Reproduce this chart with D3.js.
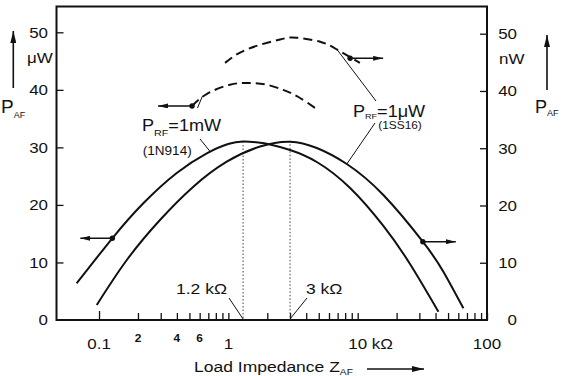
<!DOCTYPE html>
<html>
<head>
<meta charset="utf-8">
<script src="https://cdn.jsdelivr.net/npm/d3@7"></script>
<style>
  body { margin: 0; background: #fff; }
  text { font-family: "Liberation Sans", Arial, sans-serif; fill: #111; }
</style>
</head>
<body>
<div id="chart"></div>
<script>
// load impedance (kOhm) vs audio power
const curve1N914 = [[0.0672, 6.38], [0.1267, 14.2], [0.220, 20.28], [0.399, 25.55], [0.681, 28.97], [0.995, 30.59],
  [1.30, 31.02], [1.70, 30.85], [2.10, 30.5], [3.0, 29.54], [4.83, 27.46], [8.74, 22.94], [15.8, 16.34], [25.4, 9.73], [42.1, 1.44]];
const curve1SS16 = [[0.096, 2.62], [0.164, 10.48], [0.296, 17.46], [0.536, 23.28], [0.972, 27.65], [1.76, 30.3],
  [3.0, 31.14], [4.83, 30.04], [8.24, 27.24], [15.8, 21.83], [31.9, 13.67], [46.0, 8.44], [65.7, 2.04]];
const dashedUpper = [[0.943, 44.9], [1.387, 47.25], [2.51, 49.0], [3.38, 49.3], [5.12, 48.6], [6.89, 47.25], [10.4, 44.9]];
const dashedLower = [[0.524, 37.2], [0.684, 39.3], [1.03, 40.9], [1.42, 41.2], [1.92, 40.96], [2.65, 40.0], [3.46, 38.8], [4.94, 36.5]];

const yTicks = [0, 10, 20, 30, 40, 50];
const xDecades = [0.1, 1, 10];
const xMinorMult = [2, 3, 4, 5, 6, 7, 8, 9];
const xTickLabels = [[0.1, "0.1"], [1, "1"], [100, "100"]];
const xSmallLabels = [[0.2, "2"], [0.4, "4"], [0.6, "6"]];
const optimum = [[1.3, 31.02, "1.2 k\u03A9"], [3.0, 31.14, "3 k\u03A9"]];

const width = 563, height = 376;
const SX = 1.13; // the scan is stretched sideways

const svg = d3.select("#chart").append("svg")
  .attr("width", width).attr("height", height);

const defs = svg.append("defs");
defs.append("marker").attr("id", "ah")
  .attr("viewBox", "0 0 12 6").attr("refX", 12).attr("refY", 3)
  .attr("markerWidth", 12).attr("markerHeight", 6)
  .attr("markerUnits", "userSpaceOnUse").attr("orient", "auto")
  .append("path").attr("d", "M0,0L12,3L0,6Z").attr("fill", "#111");
defs.append("marker").attr("id", "ahs")
  .attr("viewBox", "0 0 10 5").attr("refX", 10).attr("refY", 2.5)
  .attr("markerWidth", 10).attr("markerHeight", 5)
  .attr("markerUnits", "userSpaceOnUse").attr("orient", "auto")
  .append("path").attr("d", "M0,0L10,2.5L0,5Z").attr("fill", "#111");

const x = d3.scaleLog().domain([0.0469, 100]).range([56.5, 487]);
const yL = d3.scaleLinear().domain([0, 50]).range([320, 32.3]);
const yR = d3.scaleLinear().domain([0, 50]).range([320, 33.7]);
const X0 = x.range()[0], X1 = x.range()[1], Y0 = yL(0), YT = 6.5;

function label(px, py, parts, opts) {
  opts = opts || {};
  const t = svg.append("text")
    .attr("transform", `translate(${px},${py}) scale(${opts.sx || SX},1)`)
    .attr("text-anchor", opts.anchor || "start")
    .style("font-weight", opts.weight || "normal");
  parts.forEach(p => t.append("tspan").attr("font-size", p.s).attr("dy", p.dy || 0).text(p.t));
  return t;
}

// ticks
const xTickVals = [];
xDecades.forEach(d => { xTickVals.push(d); xMinorMult.forEach(m => xTickVals.push(d * m)); });
xTickVals.push(100);

svg.append("g")
  .attr("transform", `translate(0,${Y0})`)
  .call(d3.axisBottom(x).tickValues(xTickVals).tickSize(-7).tickFormat(""))
  .call(g => g.select(".domain").remove())
  .call(g => g.selectAll(".tick line").attr("stroke", "#111").attr("stroke-width", 1.3)
    .filter(d => d === 0.1).attr("y2", -9));

svg.append("g")
  .attr("transform", `translate(${X0},0)`)
  .call(d3.axisLeft(yL).tickValues(yTicks.slice(1)).tickSize(-7).tickFormat(""))
  .call(g => g.select(".domain").remove())
  .call(g => g.selectAll(".tick line").attr("stroke", "#111").attr("stroke-width", 1.3));

svg.append("g")
  .attr("transform", `translate(${X1},0)`)
  .call(d3.axisRight(yR).tickValues(yTicks.slice(1)).tickSize(-7).tickFormat(""))
  .call(g => g.select(".domain").remove())
  .call(g => g.selectAll(".tick line").attr("stroke", "#111").attr("stroke-width", 1.3));

// frame
svg.append("rect")
  .attr("x", X0).attr("y", YT).attr("width", X1 - X0).attr("height", Y0 - YT)
  .attr("fill", "none").attr("stroke", "#111").attr("stroke-width", 2);

// tick labels
yTicks.forEach(v => {
  label(48, yL(v) + 5.3, [{ t: v, s: 15 }], { anchor: "end" });
  label(517, yR(v) + 5.3, [{ t: v, s: 15 }], { anchor: "end" });
});
xTickLabels.forEach(([v, t]) => label(x(v), 348.5, [{ t, s: 15 }], { anchor: "middle" }));
label(x(10) - 9.4, 348.5, [{ t: "10 k\u03A9", s: 15 }]);
xSmallLabels.forEach(([v, t]) => label(x(v), 341.5, [{ t, s: 10.5 }], { anchor: "middle", weight: "bold" }));

// units and axis titles
label(52.7, 63.3, [{ t: "\u03BCW", s: 15 }], { anchor: "end" });
label(499, 64, [{ t: "nW", s: 15 }]);
label(1, 113, [{ t: "P", s: 19 }, { t: "AF", s: 9, dy: 5 }], { sx: 1 });
label(535, 113, [{ t: "P", s: 18 }, { t: "AF", s: 9, dy: 2.5 }], { sx: 1 });
label(194, 371.5, [{ t: "Load Impedance Z", s: 15.5 }, { t: "AF", s: 9, dy: 3.3 }]);

svg.append("line").attr("x1", 13.3).attr("y1", 88).attr("x2", 13.3).attr("y2", 31)
  .attr("stroke", "#111").attr("stroke-width", 1.6).attr("marker-end", "url(#ah)");
svg.append("line").attr("x1", 547).attr("y1", 90).attr("x2", 547).attr("y2", 35)
  .attr("stroke", "#111").attr("stroke-width", 1.6).attr("marker-end", "url(#ah)");
svg.append("line").attr("x1", 367).attr("y1", 369).attr("x2", 424).attr("y2", 369)
  .attr("stroke", "#111").attr("stroke-width", 1.4).attr("marker-end", "url(#ah)");

// optimum markers
optimum.forEach(([z, p]) => {
  svg.append("line")
    .attr("x1", x(z)).attr("x2", x(z)).attr("y1", yL(p)).attr("y2", Y0)
    .attr("stroke", "#444").attr("stroke-width", 1).attr("stroke-dasharray", "1.5,2");
});
label(176, 293.5, [{ t: optimum[0][2], s: 15.5 }]);
label(306, 293.5, [{ t: optimum[1][2], s: 15.5 }]);
svg.append("line").attr("x1", 229).attr("y1", 298).attr("x2", x(optimum[0][0])).attr("y2", Y0 - 1)
  .attr("stroke", "#111").attr("stroke-width", 1);
svg.append("line").attr("x1", 307).attr("y1", 298).attr("x2", x(optimum[1][0])).attr("y2", Y0 - 1)
  .attr("stroke", "#111").attr("stroke-width", 1);

// curves
const lineOn = y => d3.line().x(d => x(d[0])).y(d => y(d[1])).curve(d3.curveNatural);
svg.append("path").datum(curve1N914).attr("d", lineOn(yL))
  .attr("fill", "none").attr("stroke", "#111").attr("stroke-width", 2);
svg.append("path").datum(curve1SS16).attr("d", lineOn(yR))
  .attr("fill", "none").attr("stroke", "#111").attr("stroke-width", 2);
svg.append("path").datum(dashedUpper).attr("d", lineOn(yR))
  .attr("fill", "none").attr("stroke", "#111").attr("stroke-width", 2).attr("stroke-dasharray", "9,5");
svg.append("path").datum(dashedLower).attr("d", lineOn(yL))
  .attr("fill", "none").attr("stroke", "#111").attr("stroke-width", 2).attr("stroke-dasharray", "9,5");

// axis pointers on the curves
function dotArrow(px, py, dir, len) {
  svg.append("line").attr("x1", px).attr("y1", py).attr("x2", px + dir * len).attr("y2", py)
    .attr("stroke", "#111").attr("stroke-width", 1.6).attr("marker-end", "url(#ahs)");
  svg.append("circle").attr("cx", px).attr("cy", py).attr("r", 2.7).attr("fill", "#111");
}
dotArrow(x(0.1267), yL(14.2), -1, 32);
dotArrow(x(31.9), yR(13.67), 1, 33);
dotArrow(x(0.524), yL(37.2), -1, 34);
dotArrow(x(8.74), yR(45.7), 1, 33);

// labels and leaders
label(142, 131, [{ t: "P", s: 16 }, { t: "RF", s: 9.5, dy: 4.5 }, { t: "=1mW", s: 16, dy: -4.5 }]);
label(191.7, 155, [{ t: "(1N914)", s: 12 }], { anchor: "end" });
label(353, 116.7, [{ t: "P", s: 16 }, { t: "RF", s: 8, dy: 2 }, { t: "=1\u03BCW", s: 16, dy: -2 }]);
label(378.3, 128.5, [{ t: "(1SS16)", s: 10.5 }]);

const leader = (x1, y1, x2, y2) => svg.append("line")
  .attr("x1", x1).attr("y1", y1).attr("x2", x2).attr("y2", y2)
  .attr("stroke", "#111").attr("stroke-width", 1);
leader(x(0.63), yL(38.9), 197.5, 108);
leader(200, 139, x(0.722), yL(29.3));
leader(x(6.94), yR(47.2), 376, 101);
leader(375, 123, x(8.24), yR(27.24));
</script>
</body>
</html>
